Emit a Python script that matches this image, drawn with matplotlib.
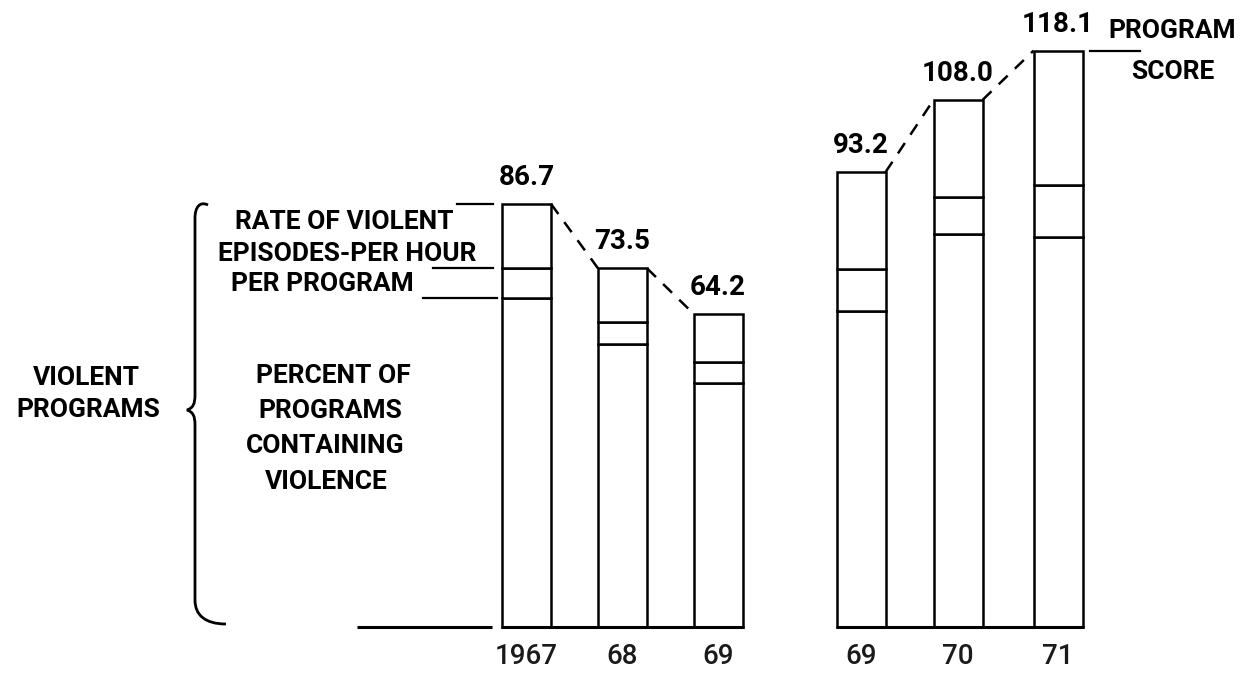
import matplotlib
matplotlib.use("Agg")
import matplotlib.pyplot as plt
from matplotlib.path import Path
from matplotlib.patches import PathPatch
import matplotlib.transforms as mtransforms
import numpy as np

# ---------------- data ----------------
years = ["1967", "68", "69", "69", "70", "71"]
program_score = [86.7, 73.5, 64.2, 93.2, 108.0, 118.1]
pct_violent = [67.4, 58.0, 50.0, 64.8, 80.5, 79.9]      # bottom segment
rate_per_program = [6.1, 4.5, 4.3, 8.6, 7.6, 10.7]      # middle segment
score_labels = ["86.7", "73.5", "64.2", "93.2", "108.0", "118.1"]
groups = [[0, 1, 2], [3, 4, 5]]

# ---------------- layout ----------------
W, H = 1256, 674
BASE_PX = 627.0          # pixel row of the baseline
SCALE = 4.88             # pixels per unit
bar_x = [526.5, 622.5, 718, 861, 958, 1058]
bar_w = 49

plt.rcParams['font.family'] = ['Roboto', 'DejaVu Sans']
fig = plt.figure(figsize=(W / 100, H / 100), dpi=100)
ax = fig.add_axes([0, 0, 1, 1])
ax.set_xlim(0, W)
ax.set_ylim((BASE_PX - H) / SCALE, BASE_PX / SCALE)
ax.axis('off')

pct = np.array(pct_violent)
rpp = np.array(rate_per_program)
tot = np.array(program_score)
top = tot - pct - rpp

LW = 1.8
kw = dict(width=bar_w, color='white', edgecolor='black', linewidth=LW, zorder=3)
ax.bar(bar_x, pct, bottom=0, **kw)
ax.bar(bar_x, rpp, bottom=pct, **kw)
ax.bar(bar_x, top, bottom=pct + rpp, **kw)

# baselines under each group
for g in groups:
    ax.plot([bar_x[g[0]] - bar_w / 2 - 1, bar_x[g[-1]] + bar_w / 2 + 1], [0, 0],
            color='black', lw=2.2, zorder=4, solid_capstyle='butt')
    # dashed connectors between bar tops
    for a, b in zip(g[:-1], g[1:]):
        ax.plot([bar_x[a] + bar_w / 2, bar_x[b] - bar_w / 2],
                [program_score[a], program_score[b]],
                color='black', lw=1.8, ls=(0, (5, 4)), zorder=4)

# value labels and year labels
for i in range(len(years)):
    ax.annotate(score_labels[i], (bar_x[i], program_score[i]),
                xytext=(0, 19), textcoords='offset points',
                ha='center', va='center', fontsize=20, fontweight='bold')
    ax.annotate(years[i], (bar_x[i], 0), xytext=(0, -21),
                textcoords='offset points', ha='center', va='center',
                fontsize=20, fontweight='medium', color='#1a1a1a')

# leader lines on the left (levels of the 1967 bar)
ax.plot([457, 493], [program_score[0]] * 2, color='black', lw=1.6)
ax.plot([433, 493], [pct[0] + rpp[0]] * 2, color='black', lw=1.6)
ax.plot([423, 497], [pct[0]] * 2, color='black', lw=1.6)
ax.plot([357, 492], [0, 0], color='black', lw=2.2, solid_capstyle='butt')
# program score leader
ax.plot([1090, 1140], [program_score[-1]] * 2, color='black', lw=1.6)


def ft(px, py, s, **k):
    fig.text(px / W, 1 - py / H, s, ha='center', va='center',
             fontsize=k.pop('fontsize', 19), fontweight='bold', **k)


# annotation texts
ft(344, 222, "RATE OF VIOLENT")
ft(347, 254, "EPISODES-PER HOUR")
ft(322, 284, "PER PROGRAM")
ft(333, 376, "PERCENT OF")
ft(330, 411, "PROGRAMS")
ft(325, 446, "CONTAINING")
ft(326, 482, "VIOLENCE")
ft(86, 378, "VIOLENT")
ft(88, 410, "PROGRAMS")
ft(1172, 31, "PROGRAM")
ft(1173, 72, "SCORE")

# curly brace
pix = mtransforms.Affine2D().scale(1 / W, -1 / H).translate(0, 1) + fig.transFigure
verts = [(208, 205), (200, 201), (195, 207), (195, 218),
         (195, 395),
         (195, 404), (193, 408), (187, 410),
         (193, 412), (195, 416), (195, 425),
         (195, 600),
         (195, 615), (205, 624), (226, 624)]
codes = [Path.MOVETO, Path.CURVE4, Path.CURVE4, Path.CURVE4,
         Path.LINETO,
         Path.CURVE4, Path.CURVE4, Path.CURVE4,
         Path.CURVE4, Path.CURVE4, Path.CURVE4,
         Path.LINETO,
         Path.CURVE4, Path.CURVE4, Path.CURVE4]
fig.patches.append(PathPatch(Path(verts, codes), transform=pix, fill=False,
                             edgecolor='black', lw=2.0))

fig.savefig("out.png", dpi=100)
